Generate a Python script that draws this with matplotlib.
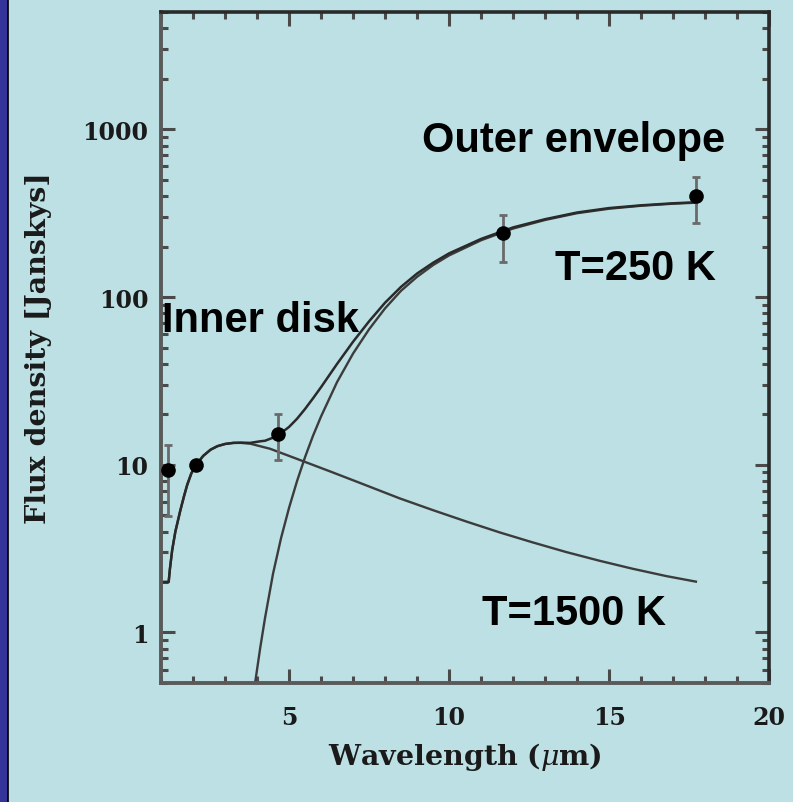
import matplotlib
matplotlib.use("Agg")
import matplotlib.pyplot as plt
import numpy as np
from matplotlib.patches import Rectangle
from matplotlib.lines import Line2D

plt.rcParams['mathtext.fontset'] = 'dejavuserif'

# measured photometry
obs_wl = [1.22, 2.10, 4.66, 11.67, 17.71]
obs_flux = [9.3, 10.0, 15.3, 240.0, 399.0]
obs_lo = [4.92, 10.0, 10.7, 162.0, 276.0]
obs_hi = [13.2, 10.0, 20.1, 308.0, 518.0]

# inner disk component (T=1500 K)
disk_wl = [1.08, 1.24, 1.28, 1.35, 1.45, 1.60, 1.72, 1.82, 1.95, 2.10, 2.32,
           2.55, 2.76, 3.00, 3.26, 3.50, 3.79, 4.41, 5.44, 6.30, 7.21, 8.46,
           9.50, 10.55, 11.60, 12.60, 13.65, 14.69, 15.73, 16.78, 17.71]
disk_flux = [2.0, 2.0, 2.4, 3.1, 4.0, 5.3, 6.5, 7.6, 8.9, 10.0, 11.3,
             12.3, 12.9, 13.3, 13.5, 13.5, 13.35, 12.45, 10.5, 9.1, 7.8, 6.3,
             5.36, 4.58, 3.94, 3.45, 3.02, 2.68, 2.40, 2.17, 2.01]

# outer envelope component (T=250 K)
env_wl = [3.94, 4.10, 4.25, 4.50, 4.75, 5.00, 5.25, 5.50, 5.75, 6.00, 6.50,
          7.00, 7.50, 8.00, 8.50, 9.00, 9.50, 10.00, 11.00, 12.00, 13.00,
          14.00, 15.00, 16.00, 17.00, 17.71]
env_flux = [0.5, 0.81, 1.22, 2.24, 3.65, 5.53, 7.99, 11.1, 14.9, 19.4, 31.1,
            46.0, 64.2, 85.6, 109.0, 132.0, 155.0, 177.0, 218.0, 256.0, 288.0,
            316.0, 336.0, 350.0, 360.0, 365.0]

# total model
sum_wl = [1.08, 1.24, 1.28, 1.35, 1.45, 1.60, 1.72, 1.82, 1.95, 2.10, 2.32,
          2.55, 2.76, 3.00, 3.26, 3.50, 3.79, 4.10, 4.25, 4.50, 4.75, 5.00,
          5.25, 5.50, 5.75, 6.00, 6.50, 7.00, 7.50, 8.00, 8.50, 9.00, 9.50,
          10.00, 11.00, 12.00, 13.00, 14.00, 15.00, 16.00, 17.00, 17.71]
sum_flux = [2.0, 2.0, 2.4, 3.1, 4.0, 5.3, 6.5, 7.6, 8.9, 10.0, 11.3,
            12.3, 12.9, 13.3, 13.5, 13.55, 13.5, 13.8, 13.9, 14.5, 15.45, 16.8,
            18.8, 21.5, 24.9, 29.0, 39.9, 54.1, 71.6, 92.5, 115.0, 138.0, 160.0,
            182.0, 222.0, 260.0, 291.0, 319.0, 339.0, 352.0, 362.0, 367.0]

bg = '#bce0e3'
serif = 'DejaVu Serif'

fig = plt.figure(figsize=(7.93, 8.03), dpi=100, facecolor=bg)
ax = fig.add_axes([0.203, 0.1482, 0.767, 0.8356])
ax.set_facecolor(bg)

line_col = '#3c3c3c'
ax.plot(disk_wl, disk_flux, color=line_col, lw=1.7)
ax.plot(env_wl, env_flux, color=line_col, lw=1.7)
ax.plot(sum_wl, sum_flux, color='#2a2a2a', lw=1.8)

yerr = [np.array(obs_flux) - np.array(obs_lo), np.array(obs_hi) - np.array(obs_flux)]
ax.errorbar(obs_wl, obs_flux, yerr=yerr, fmt='o', color='black', ms=9.5,
            ecolor='#6a6a6a', elinewidth=2.0, capsize=3, capthick=2.0, zorder=5)

ax.set_yscale('log')
ax.set_xlim(1, 20)
ax.set_ylim(0.5, 5000)

ax.set_xticks([5, 10, 15, 20])
ax.set_xticklabels(['5', '10', '15', '20'])
ax.set_xticks(np.arange(1, 21), minor=True)
ax.set_yticks([1, 10, 100, 1000])
ax.set_yticklabels(['1', '10', '100', '1000'])
ax.yaxis.set_minor_locator(matplotlib.ticker.LogLocator(base=10, subs=np.arange(2, 10)))
ax.yaxis.set_minor_formatter(matplotlib.ticker.NullFormatter())

ax.tick_params(which='both', direction='in', top=True, right=True,
               color='#4a4a4a', width=2.2)
ax.tick_params(which='major', length=10)
ax.tick_params(which='minor', length=5)
ax.tick_params(axis='x', which='major', pad=16)
ax.tick_params(axis='y', which='major', pad=9)
for lab in ax.get_xticklabels() + ax.get_yticklabels():
    lab.set_fontfamily(serif)
    lab.set_fontweight('bold')
    lab.set_fontsize(17)
    lab.set_color('#1a1a1a')

for side in ['left', 'bottom']:
    ax.spines[side].set_color('#5a5a5a')
    ax.spines[side].set_linewidth(2.8)
for side in ['top', 'right']:
    ax.spines[side].set_color('#2a2a2a')
    ax.spines[side].set_linewidth(2.6)

ax.set_xlabel('Wavelength ($\\mu$m)', family=serif, weight='bold',
              fontsize=20.5, color='#1a1a1a')
ax.set_ylabel('Flux density [Janskys]', family=serif, weight='bold',
              fontsize=20.5, color='#1a1a1a')
ax.xaxis.set_label_coords(0.5, -0.085)
ax.yaxis.set_label_coords(-0.179, 0.5)

sans = 'Liberation Sans'
ax.text(0.429, 0.793, 'Outer envelope', transform=ax.transAxes, family=sans,
        weight='bold', fontsize=30, va='baseline', ha='left')
ax.text(0.648, 0.602, 'T=250 K', transform=ax.transAxes, family=sans,
        weight='bold', fontsize=30, va='baseline', ha='left')
ax.text(0.0016, 0.5246, 'Inner disk', transform=ax.transAxes, family=sans,
        weight='bold', fontsize=30, va='baseline', ha='left')
ax.text(0.528, 0.088, 'T=1500 K', transform=ax.transAxes, family=sans,
        weight='bold', fontsize=30, va='baseline', ha='left')

# dark strip on the left edge of the slide
fig.patches.append(Rectangle((0, 0), 7 / 793, 1, transform=fig.transFigure,
                             color='#333399', zorder=10))
fig.lines.append(Line2D([7.8 / 793, 7.8 / 793], [0, 1], transform=fig.transFigure,
                        color='black', lw=1.2, zorder=11))

fig.savefig('out.png', dpi=100, facecolor=bg)
